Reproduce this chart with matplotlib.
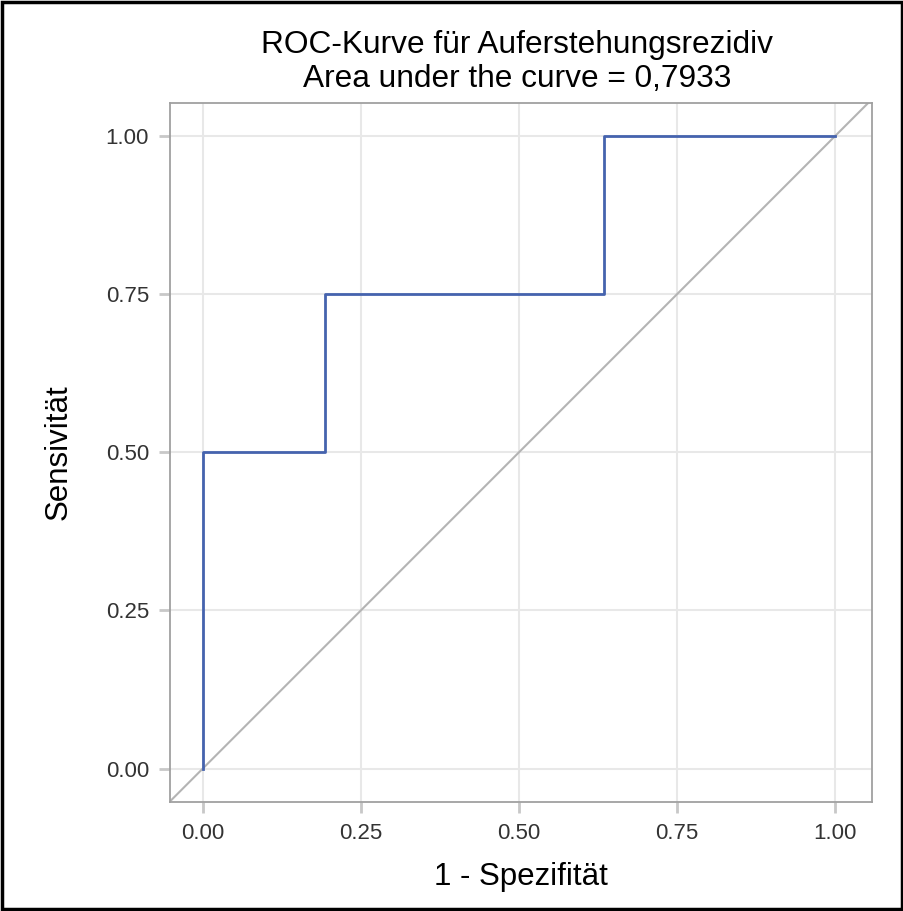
import matplotlib
matplotlib.use('Agg')
import matplotlib.pyplot as plt

# ROC step points (1 - specificity, sensitivity)
fpr = [0.0, 0.0, 0.193, 0.193, 0.634, 0.634, 1.0]
tpr = [0.0, 0.5, 0.5, 0.75, 0.75, 1.0, 1.0]
ticks = [0.0, 0.25, 0.5, 0.75, 1.0]
tick_labels = ['0.00', '0.25', '0.50', '0.75', '1.00']
title1 = 'ROC-Kurve für Auferstehungsrezidiv'
title2 = 'Area under the curve = 0,7933'

plt.rcParams['font.family'] = ['Liberation Sans', 'DejaVu Sans']
fig = plt.figure(figsize=(9.04, 9.11), dpi=100)
ax = fig.add_axes([0.188, 0.1196, 0.7766, 0.7674])

ax.axline((0, 0), slope=1, color='#b4b4b4', lw=1.5, zorder=2)
ax.plot(fpr, tpr, color='#4563ae', lw=2.0, zorder=3)

ax.set_xlim(-0.052, 1.058)
ax.set_ylim(-0.053, 1.052)
ax.set_xticks(ticks)
ax.set_xticklabels(tick_labels)
ax.set_yticks(ticks)
ax.set_yticklabels(tick_labels)
ax.grid(True, color='#e8e8e8', lw=1.5, zorder=0)
ax.set_axisbelow(True)
ax.tick_params(length=8, width=2, color='#c8c8c8', labelsize=16,
               labelcolor='#333333', pad=7)
for s in ax.spines.values():
    s.set_color('#a0a0a0'); s.set_linewidth(1.3)

ax.set_xlabel('1 - Spezifität', fontsize=22.5)
ax.set_ylabel('Sensivität', fontsize=22.5)
ax.xaxis.set_label_coords(0.5, -0.118)
ax.yaxis.set_label_coords(-0.137, 0.5)
ax.xaxis.label.set_va('baseline')
fig.text(517 / 904, 1 - 53 / 911, title1, ha='center', va='baseline', fontsize=22.8)
fig.text(517 / 904, 1 - 87 / 911, title2, ha='center', va='baseline', fontsize=22.8)

fig.patches.append(plt.Rectangle((0.002, 0.002), 0.996, 0.996, transform=fig.transFigure,
                                 fill=False, ec='black', lw=2.5))
fig.savefig('out.png', dpi=100)
